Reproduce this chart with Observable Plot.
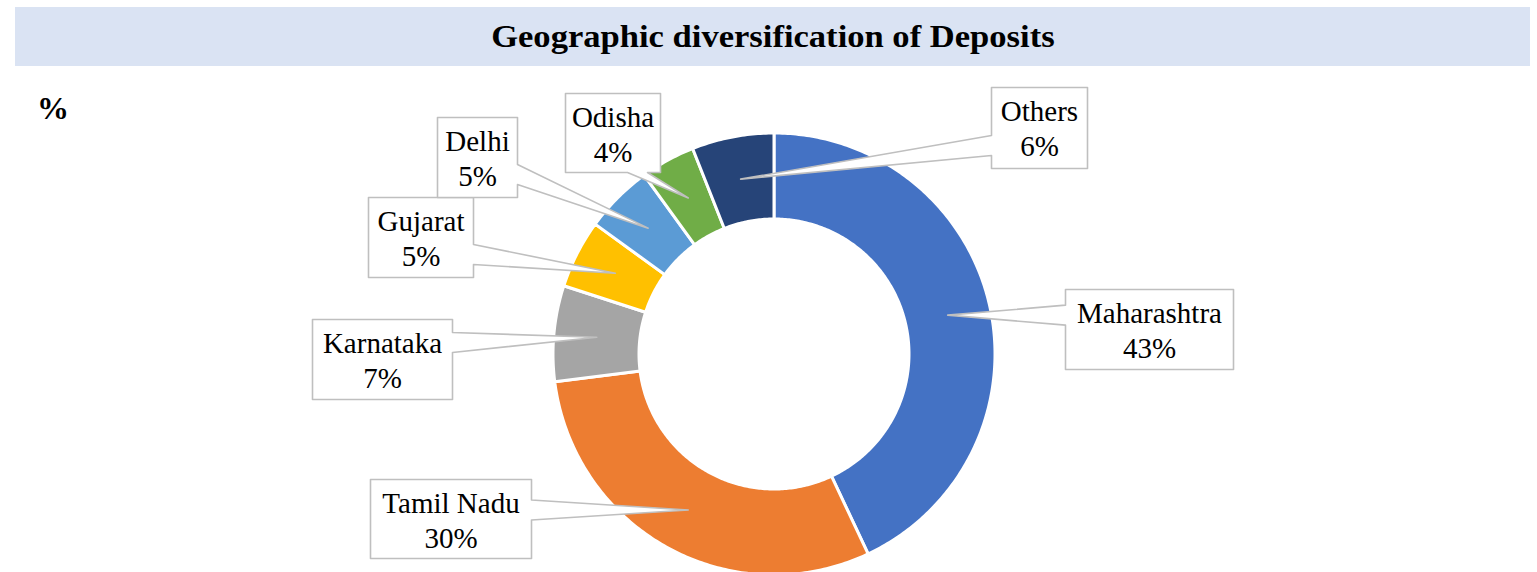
<!DOCTYPE html>
<html>
<head>
<meta charset="utf-8">
<script src="https://cdn.jsdelivr.net/npm/d3@7"></script>
<script src="https://cdn.jsdelivr.net/npm/@observablehq/plot@0.6"></script>
<style>
  html, body { margin: 0; padding: 0; background: #fff; }
  #wrap { position: relative; width: 1537px; height: 572px; overflow: hidden; font-family: "Liberation Serif", "DejaVu Serif", serif; }
  #banner { position: absolute; left: 15px; top: 7px; width: 1515px; height: 59px; background: #DAE3F3; z-index: 2;
            display: flex; align-items: center; justify-content: center; font-weight: bold; font-size: 32px; color: #000; }
  #banner span { display: inline-block; transform: scaleX(1.08); }
  #unit { position: absolute; left: 37px; top: 92px; font-weight: bold; font-size: 32px; line-height: 1; color: #000; z-index: 2; }
  #chart { position: absolute; left: 0; top: 66px; z-index: 1; }
</style>
</head>
<body>
<div id="wrap">
  <div id="banner"><span>Geographic diversification of Deposits</span></div>
  <div id="unit">%</div>
  <div id="chart"></div>
</div>
<script>
// ---- data ----
const states = ["Maharashtra", "Tamil Nadu", "Karnataka", "Gujarat", "Delhi", "Odisha", "Others"];
const shares = [43, 30, 7, 5, 5, 4, 6];
const colors = ["#4472C4", "#ED7D31", "#A5A5A5", "#FFC000", "#5B9BD5", "#70AD47", "#264478"];

// ---- layout (pixels in the svg) ----
const W = 1537, H = 506;
const cx = 773.5, cy = 287.5, rOuter = 221, rInner = 135;
// callout boxes: [x0, y0, x1, y1] in page pixels, side where the pointer leaves
const boxes = [
  {box: [1065, 289, 1233, 369], side: "left"},
  {box: [370, 479, 531, 558], side: "right"},
  {box: [312, 319, 452, 399], side: "right"},
  {box: [368, 197, 473, 277], side: "right"},
  {box: [437, 117, 517, 197], side: "right"},
  {box: [565, 93, 660, 172], side: "bottom"},
  {box: [991, 87, 1087, 168], side: "left"}
];
const top0 = 66;

const total = d3.sum(shares);
const pie = d3.pie().sort(null).value(d => d)(shares);

const pt = (a, r) => ({x: cx + r * Math.sin(a), y: cy - r * Math.cos(a)});

const sliceMarks = pie.map((p, i) => {
  const pts = [];
  const n = Math.max(8, Math.ceil((p.endAngle - p.startAngle) * 80));
  for (let k = 0; k <= n; k++) pts.push(pt(p.startAngle + (p.endAngle - p.startAngle) * k / n, rOuter));
  for (let k = n; k >= 0; k--) pts.push(pt(p.startAngle + (p.endAngle - p.startAngle) * k / n, rInner));
  return Plot.line(pts, {x: "x", y: "y", fill: colors[i], stroke: "white", strokeWidth: 3, curve: "linear-closed"});
});

const clamp = (v, a, b) => Math.max(a, Math.min(b, v));
const calloutPolys = [];
const labelsTop = [], labelsBottom = [];
pie.forEach((p, i) => {
  const mid = (p.startAngle + p.endAngle) / 2;
  const tip = pt(mid, (rOuter + rInner) / 2);
  const [x0, y0p, x1, y1p] = boxes[i].box;
  const y0 = y0p - top0, y1 = y1p - top0;
  const hw = 10;
  let poly;
  if (boxes[i].side === "left" || boxes[i].side === "right") {
    const c = clamp(tip.y, y0 + 23, y1 - 23);
    if (boxes[i].side === "left")
      poly = [[x0, y0], [x1, y0], [x1, y1], [x0, y1], [x0, c + hw], [tip.x, tip.y], [x0, c - hw]];
    else
      poly = [[x0, y0], [x1, y0], [x1, c - hw], [tip.x, tip.y], [x1, c + hw], [x1, y1], [x0, y1]];
  } else {
    const c = clamp(tip.x, x0 + 23, x1 - 23);
    poly = [[x0, y0], [x1, y0], [x1, y1], [c + hw, y1], [tip.x, tip.y], [c - hw, y1], [x0, y1]];
  }
  poly.forEach(([x, y]) => calloutPolys.push({x, y, k: states[i]}));
  labelsTop.push({x: (x0 + x1) / 2, y: y0 + 33, t: states[i]});
  labelsBottom.push({x: (x0 + x1) / 2, y: y0 + 68, t: `${Math.round(shares[i] / total * 100)}%`});
});

const chart = Plot.plot({
  width: W, height: H,
  margin: 0,
  x: {domain: [0, W], range: [0, W], axis: null},
  y: {domain: [0, H], range: [0, H], axis: null},
  style: {fontFamily: "'Liberation Serif', 'DejaVu Serif', serif", background: "transparent", overflow: "visible"},
  marks: [
    ...sliceMarks,
    Plot.line(calloutPolys, {x: "x", y: "y", z: "k", fill: "white", stroke: "#BFBFBF", strokeWidth: 1.6, curve: "linear-closed"}),
    Plot.text(labelsTop, {x: "x", y: "y", text: "t", fontSize: 29, fill: "#000", lineAnchor: "bottom", textAnchor: "middle"}),
    Plot.text(labelsBottom, {x: "x", y: "y", text: "t", fontSize: 29, fill: "#000", lineAnchor: "bottom", textAnchor: "middle"})
  ]
});
document.getElementById("chart").appendChild(chart);
</script>
</body>
</html>
